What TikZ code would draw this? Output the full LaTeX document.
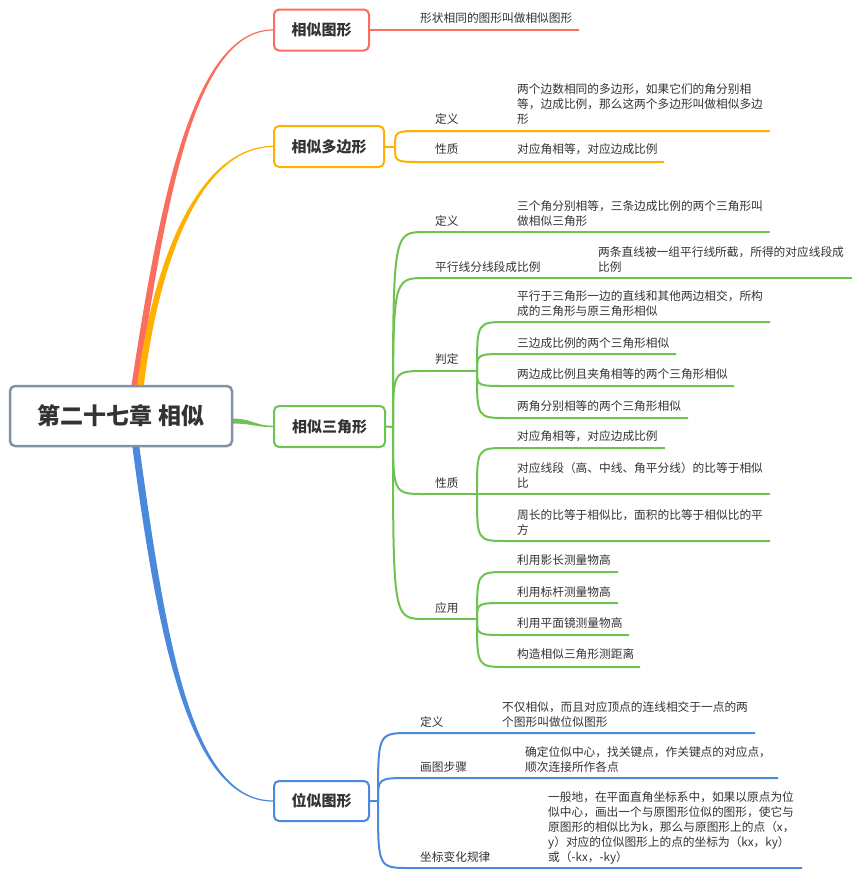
\documentclass[tikz,border=0pt]{standalone}
\usepackage{fontspec}
\setmainfont{Noto Sans CJK SC}
\usetikzlibrary{backgrounds}
\definecolor{txt}{HTML}{333333}
\definecolor{cred}{HTML}{FA6E5F}
\definecolor{corg}{HTML}{FFB000}
\definecolor{cgrn}{HTML}{6CC350}
\definecolor{cblu}{HTML}{4A89DC}
\definecolor{croot}{HTML}{8592A6}
\begin{document}
\begin{tikzpicture}[x=1pt,y=-1pt,
  leaf/.style={anchor=base west, inner sep=0pt, align=left, text=txt, font=\fontsize{11.7}{15}\selectfont},
  mbox/.style={draw, line width=2pt, rounded corners=5pt, fill=white, text=txt, inner sep=0pt,
    minimum height=41pt, font=\bfseries\fontsize{15}{18}\selectfont},
  lred/.style={draw=cred, line width=2pt},
  lorg/.style={draw=corg, line width=2pt},
  lgrn/.style={draw=cgrn, line width=2pt},
  lblu/.style={draw=cblu, line width=2pt},
]
\useasboundingbox (0,0) rectangle (860,879);

\coordinate (rr1) at (131,388); \coordinate (rr2) at (137.5,388);
\coordinate (ro1) at (137,388); \coordinate (ro2) at (143.5,388);
\coordinate (rb1) at (132,444); \coordinate (rb2) at (139,444);
\coordinate (rg1) at (231,418.5); \coordinate (rg2) at (231,423.5);

% ---------- root and main boxes ----------
\node[draw=croot, line width=2.5pt, rounded corners=5pt, fill=white, text=txt, inner sep=0pt,
  minimum width=222pt, minimum height=60pt, font=\bfseries\fontsize{23}{26}\selectfont] (root) at (121,416) {第二十七章 相似};

\node[mbox, draw=cred, minimum width=95pt] (b1) at (321.5,30) {相似图形};
\node[mbox, draw=corg, minimum width=110pt] (b2) at (329,146.5) {相似多边形};
\node[mbox, draw=cgrn, minimum width=111pt] (b3) at (329.5,426.5) {相似三角形};
\node[mbox, draw=cblu, minimum width=95pt, minimum height=40pt] (b4) at (321.5,801) {位似图形};

% ---------- tapered main connectors, under the boxes ----------
\begin{scope}[on background layer]
\fill[cred] (rr1) .. controls (157,220) and (189,29.5) .. ([yshift=0.6pt]b1.west)
   -- ([yshift=-0.6pt]b1.west) .. controls (191,30.5) and (164,220) .. (rr2) -- cycle;
\fill[corg] (ro1) .. controls (152,260) and (199,146) .. ([yshift=0.6pt]b2.west)
   -- ([yshift=-0.6pt]b2.west) .. controls (201,147) and (159,260) .. (ro2) -- cycle;
\fill[cblu] (rb1) .. controls (158,640) and (189,801.6) .. ([yshift=-0.6pt]b4.west)
   -- ([yshift=0.6pt]b4.west) .. controls (191,800.4) and (166,640) .. (rb2) -- cycle;
\fill[cgrn] (rg1) .. controls (253,418.5) and (253,425.4) .. ([yshift=0.7pt]b3.west)
   -- ([yshift=-0.7pt]b3.west) .. controls (253,426.8) and (253,423.5) .. (rg2) -- cycle;
\end{scope}

% ---------- 相似图形 ----------
\coordinate (e1) at (579,30);
\draw[lred] (b1.east) -- (e1);
\node[leaf] (t1) at (420,22.4) {形状相同的图形叫做相似图形};

% ---------- 相似多边形 ----------
\coordinate (f2) at (395,146.5);
\coordinate (s2a) at (423,131);  \coordinate (e2a) at (770,131);
\coordinate (s2b) at (423,162);  \coordinate (e2b) at (664,162);
\draw[lorg] (b2.east) -- (f2);
\draw[lorg] (f2) .. controls (f2 |- s2a) .. (s2a) -- (e2a);
\draw[lorg] (f2) .. controls (f2 |- s2b) .. (s2b) -- (e2b);
\node[leaf] (l2a) at (435,123.4) {定义};
\node[leaf] (l2b) at (435,153.4) {性质};
\node[leaf] (t2a) at (517,123.4) {两个边数相同的多边形，如果它们的角分别相\\等，边成比例，那么这两个多边形叫做相似多边\\形};
\node[leaf] (t2b) at (517,153.4) {对应角相等，对应边成比例};

% ---------- 相似三角形 ----------
\coordinate (f3) at (393,427);
\coordinate (s3a) at (425,232);  \coordinate (e3a) at (770,232);
\coordinate (s3b) at (425,278);  \coordinate (e3b) at (852,278);
\coordinate (s3c) at (425,371);  \coordinate (f3c) at (477,371);
\coordinate (s3d) at (425,494);  \coordinate (f3d) at (477,494);
\coordinate (s3e) at (425,619);  \coordinate (f3e) at (477,619);
\draw[lgrn] (b3.east) -- (f3);
\foreach \s in {s3a,s3b,s3c,s3d,s3e}{\draw[lgrn] (f3) .. controls (f3 |- \s) .. (\s);}
\draw[lgrn] (s3a) -- (e3a);
\draw[lgrn] (s3b) -- (e3b);
\draw[lgrn] (s3c) -- (f3c);
\draw[lgrn] (s3d) -- (f3d);
\draw[lgrn] (s3e) -- (f3e);
\node[leaf] (l3a) at (435,225) {定义};
\node[leaf] (l3b) at (435,271) {平行线分线段成比例};
\node[leaf] (l3c) at (435,363) {判定};
\node[leaf] (l3d) at (435,487) {性质};
\node[leaf] (l3e) at (435,612) {应用};
\node[leaf] (t3a) at (517,225.4) {三个角分别相等，三条边成比例的两个三角形叫\\做相似三角形};
\node[leaf] (t3b) at (598,271) {两条直线被一组平行线所截，所得的对应线段成\\比例};

% 判定 children
\coordinate (c1s) at (507,322) ; \coordinate (c1e) at (770,322);
\coordinate (c2s) at (507,354) ; \coordinate (c2e) at (676,354);
\coordinate (c3s) at (507,386) ; \coordinate (c3e) at (734,386);
\coordinate (c4s) at (507,418) ; \coordinate (c4e) at (688,418);
\foreach \a/\b in {c1s/c1e,c2s/c2e,c3s/c3e,c4s/c4e}{\draw[lgrn] (f3c) .. controls (f3c |- \a) .. (\a) -- (\b);}
\node[leaf] (t3c1) at (517,315.4) {平行于三角形一边的直线和其他两边相交，所构\\成的三角形与原三角形相似};
\node[leaf] (t3c2) at (517,347.2) {三边成比例的两个三角形相似};
\node[leaf] (t3c3) at (517,378.4) {两边成比例且夹角相等的两个三角形相似};
\node[leaf] (t3c4) at (517,410.4) {两角分别相等的两个三角形相似};

% 性质 children
\coordinate (p1s) at (507,448) ; \coordinate (p1e) at (665,448);
\coordinate (p2e) at (770,494);
\coordinate (p3s) at (507,541) ; \coordinate (p3e) at (770,541);
\draw[lgrn] (f3d) .. controls (f3d |- p1s) .. (p1s) -- (p1e);
\draw[lgrn] (f3d) -- (p2e);
\draw[lgrn] (f3d) .. controls (f3d |- p3s) .. (p3s) -- (p3e);
\node[leaf] (t3d1) at (517,440.4) {对应角相等，对应边成比例};
\node[leaf] (t3d2) at (517,487.4) {对应线段（高、中线、角平分线）的比等于相似\\比};
\node[leaf] (t3d3) at (517,534.4) {周长的比等于相似比，面积的比等于相似比的平\\方};

% 应用 children
\coordinate (a1s) at (507,572) ; \coordinate (a1e) at (618,572);
\coordinate (a2s) at (507,603) ; \coordinate (a2e) at (618,603);
\coordinate (a3s) at (507,635) ; \coordinate (a3e) at (629,635);
\coordinate (a4s) at (507,667) ; \coordinate (a4e) at (640,667);
\foreach \a/\b in {a1s/a1e,a2s/a2e,a3s/a3e,a4s/a4e}{\draw[lgrn] (f3e) .. controls (f3e |- \a) .. (\a) -- (\b);}
\node[leaf] (t3e1) at (517,564.4) {利用影长测量物高};
\node[leaf] (t3e2) at (517,596.4) {利用标杆测量物高};
\node[leaf] (t3e3) at (517,627.4) {利用平面镜测量物高};
\node[leaf] (t3e4) at (517,658.4) {构造相似三角形测距离};

% ---------- 位似图形 ----------
\coordinate (f4) at (378,801);
\coordinate (s4a) at (410,733);  \coordinate (e4a) at (755,733);
\coordinate (s4b) at (410,778);  \coordinate (e4b) at (778,778);
\coordinate (s4c) at (410,868);  \coordinate (e4c) at (802,868);
\draw[lblu] (b4.east) -- (f4);
\foreach \a/\b in {s4a/e4a,s4b/e4b,s4c/e4c}{\draw[lblu] (f4) .. controls (f4 |- \a) .. (\a) -- (\b);}
\node[leaf] (l4a) at (420,726.4) {定义};
\node[leaf] (l4b) at (420,771.4) {画图步骤};
\node[leaf] (l4c) at (420,861.4) {坐标变化规律};
\node[leaf] (t4a) at (502,726.4) {不仅相似，而且对应顶点的连线相交于一点的两\\个图形叫做位似图形};
\node[leaf] (t4b) at (525,771.4) {确定位似中心，找关键点，作关键点的对应点，\\顺次连接所作各点};
\node[leaf] (t4c) at (548,861.4) {一般地，在平面直角坐标系中，如果以原点为位\\似中心，画出一个与原图形位似的图形，使它与\\原图形的相似比为k，那么与原图形上的点（x，\\y）对应的位似图形上的点的坐标为（kx，ky）\\或（-kx，-ky）};
\end{tikzpicture}
\end{document}
